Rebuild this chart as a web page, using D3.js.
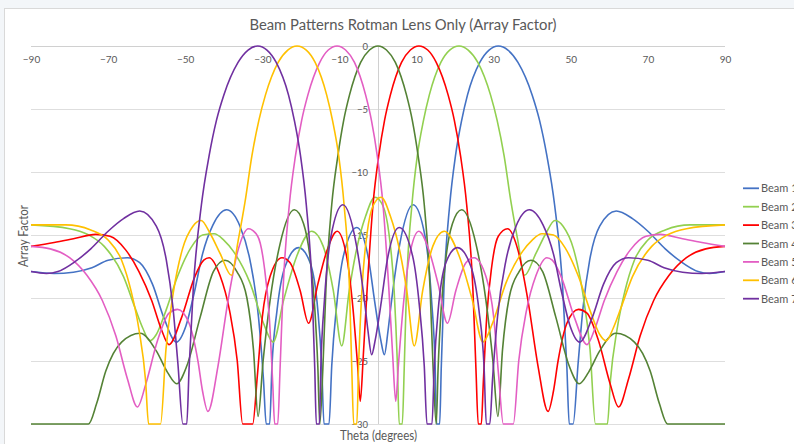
<!DOCTYPE html>
<html><head><meta charset="utf-8">
<script src="https://cdn.jsdelivr.net/npm/d3@7"></script>
<style>
html,body{margin:0;padding:0;background:#f3f6f9;}
svg{display:block;}
text{font-family:Lato,"Open Sans",sans-serif;fill:#595959;}
</style></head>
<body><svg id="chart" width="794" height="444"></svg>
<script>
const chartTitle = "Beam Patterns Rotman Lens Only (Array Factor)";
const xAxisTitle = "Theta (degrees)";
const yAxisTitle = "Array Factor";
const xTicks = [-90,-70,-50,-30,-10,10,30,50,70,90];
const yTicks = [0,-5,-10,-15,-20,-25,-30];
const seriesNames = ["Beam 1","Beam 2","Beam 3","Beam 4","Beam 5","Beam 6","Beam 7"];
const seriesColors = ["#4472C4","#92D050","#FF0000","#548235","#E35EC3","#FFC000","#7030A0"];

// [theta (deg), array factor (dB)]
const beam1 = [[-90,-17.9],[-84,-18.05],[-79,-17.95],[-74.2,-17.6],[-70,-17.0],[-65,-16.8],[-61.8,-17.2],[-58.5,-18.9],[-55.5,-21.6],[-52.3,-23.5],[-49.8,-22.2],[-47.6,-19.5],[-45.5,-16.5],[-42.8,-14.2],[-39.3,-13.0],[-35.8,-14.3],[-33.2,-17.0],[-31.0,-21.5],[-29.7,-26.5],[-29.0,-30],[-28.1,-30],[-27.5,-25.4],[-26.2,-21.0],[-24.1,-17.5],[-20.6,-16.0],[-17.6,-17.2],[-15.6,-21.0],[-14.6,-25.4],[-14.0,-30],[-12.7,-30],[-12.0,-25.4],[-10.7,-20.5],[-9.0,-16.7],[-5.5,-14.4],[-2.4,-17.0],[-0.9,-20.2],[0.7,-23.3],[1.65,-24.5],[2.6,-22.6],[3.4,-20.5],[5.6,-15.8],[9.1,-12.6],[12.2,-15.1],[13.9,-20.2],[14.8,-25.2],[15.2,-30],[16.0,-30],[16.4,-25.6],[17.1,-19.2],[18.6,-12.6],[20.1,-8.7],[21.7,-5.9],[23.2,-3.9],[26.4,-1.3],[28.8,-0.32],[31.2,0],[33.7,-0.32],[36.3,-1.3],[40.0,-3.9],[41.9,-5.9],[43.8,-8.7],[45.8,-12.6],[47.9,-19.2],[49.0,-25.6],[49.6,-30],[50.6,-30],[51.9,-25.2],[53.2,-20.7],[54.9,-17.0],[57.5,-14.3],[61.8,-13.1],[66,-13.7],[70,-14.7],[74.5,-16.1],[78.5,-17.1],[83,-17.9],[86,-18.05],[90,-17.9]];
const beam2 = [[-90,-14.2],[-80,-14.5],[-75,-15.0],[-71,-15.9],[-66,-18.3],[-63,-20.8],[-61,-22.4],[-59.2,-23.4],[-57.5,-22.9],[-55,-21.0],[-52,-18.3],[-48.5,-16.0],[-45.5,-15.0],[-42.5,-14.9],[-40,-15.4],[-37.5,-16.3],[-33.2,-18.8],[-29.7,-22.0],[-27.2,-23.5],[-24.5,-20.2],[-21.1,-16.7],[-17.2,-14.7],[-14.2,-15.9],[-11.6,-19.4],[-9.4,-23.8],[-7.5,-19.5],[-5.6,-16.2],[-3.2,-13.5],[-0.8,-12.0],[1.3,-12.7],[2.8,-14.8],[4.2,-19.5],[5.0,-25.0],[5.5,-30],[6.3,-30],[6.8,-25.6],[7.4,-19.2],[8.8,-12.6],[10.2,-8.7],[11.8,-5.9],[13.3,-3.9],[16.3,-1.3],[18.6,-0.32],[21.0,0],[23.4,-0.32],[25.9,-1.3],[29.2,-3.9],[30.9,-5.9],[32.7,-8.7],[34.5,-12.4],[36.3,-15.5],[38.0,-18.2],[40.9,-16.5],[43.5,-14.9],[45.9,-13.85],[48.0,-14.3],[50.7,-16.1],[53.0,-19.4],[55.0,-24.1],[56.4,-30],[59.5,-30],[60.3,-26.5],[62.0,-22.5],[64.0,-19.5],[66.5,-17.0],[70.0,-15.4],[74.5,-14.6],[81,-14.2],[90,-14.2]];
const beam3 = [[-90,-15.9],[-84,-15.6],[-79,-15.3],[-73.2,-14.95],[-69.5,-15.1],[-65.4,-16.2],[-62,-17.9],[-58.7,-20.2],[-56.3,-22.4],[-54.2,-23.7],[-51.0,-21.6],[-47.5,-18.3],[-45.2,-17.0],[-43.8,-16.8],[-41,-18.2],[-38.5,-21.0],[-36.5,-25.0],[-35.1,-30],[-32.5,-30],[-31.3,-26.2],[-30.0,-21.5],[-28.0,-18.3],[-24.9,-16.8],[-22.8,-17.2],[-20.2,-19.4],[-18.0,-22.0],[-15.6,-18.9],[-13.2,-16.2],[-10.6,-14.7],[-8.2,-16.6],[-6.5,-20.8],[-5.3,-25.3],[-4.6,-28.2],[-3.8,-24.5],[-2.8,-19.2],[-1.3,-12.6],[0.2,-8.7],[1.7,-5.9],[3.2,-3.9],[6.1,-1.3],[8.4,-0.32],[10.6,0],[12.9,-0.32],[15.1,-1.3],[18.2,-3.9],[19.8,-5.9],[21.4,-8.7],[23.0,-12.6],[24.6,-19.2],[25.4,-25.6],[26.0,-30],[26.8,-30],[27.3,-26.8],[28.2,-21.5],[29.5,-17.5],[31.2,-15.1],[33.6,-14.5],[36.3,-16.2],[38.9,-20.2],[41.5,-25.4],[44.1,-29.0],[45.5,-27.4],[46.7,-25.0],[49.0,-22.0],[52.0,-20.9],[54.2,-21.2],[57.2,-23.4],[60.2,-26.8],[62.4,-28.65],[65,-26.4],[68,-23.0],[71.5,-20.2],[75.5,-18.2],[80,-16.8],[85,-16.1],[90,-15.9]];
const beam4 = [[-90,-30],[-75.1,-30],[-73,-28.4],[-70.6,-25.8],[-66.5,-23.5],[-61.7,-22.8],[-57.5,-24.2],[-54.6,-25.9],[-52.2,-26.8],[-49.6,-25.4],[-46.1,-21.5],[-42.7,-17.9],[-39.7,-17.0],[-36.6,-17.9],[-34.0,-20.0],[-32.3,-24.1],[-31.1,-29.4],[-29.8,-25.0],[-28.0,-20.2],[-25.4,-15.7],[-21.7,-13.0],[-19.3,-14.1],[-17.7,-16.6],[-16.4,-20.8],[-15.6,-25.5],[-15.1,-30],[-14.3,-25.6],[-13.5,-19.2],[-12.0,-12.6],[-10.4,-8.7],[-8.9,-5.9],[-7.4,-3.9],[-4.5,-1.3],[-2.2,-0.32],[0,0],[2.2,-0.32],[4.5,-1.3],[7.4,-3.9],[8.9,-5.9],[10.4,-8.7],[12.0,-12.6],[13.5,-19.2],[14.3,-25.6],[15.1,-30],[15.6,-25.5],[16.4,-20.8],[17.7,-16.6],[19.3,-14.1],[21.7,-13.0],[25.4,-15.7],[28.0,-20.2],[29.8,-25.0],[31.1,-29.4],[32.3,-24.1],[34.0,-20.0],[36.6,-17.9],[39.7,-17.0],[42.7,-17.9],[46.1,-21.5],[49.6,-25.4],[52.2,-26.8],[54.6,-25.9],[57.5,-24.2],[61.7,-22.8],[66.5,-23.5],[70.6,-25.8],[73,-28.4],[75.1,-30],[90,-30]];
const beam5 = [[-90,-15.9],[-85,-16.1],[-80,-16.8],[-75.5,-18.2],[-71.5,-20.2],[-68,-23.0],[-65,-26.4],[-62.4,-28.65],[-60.2,-26.8],[-57.2,-23.4],[-54.2,-21.2],[-52.0,-20.9],[-49.0,-22.0],[-46.7,-25.0],[-45.5,-27.4],[-44.1,-29.0],[-41.5,-25.4],[-38.9,-20.2],[-36.3,-16.2],[-33.6,-14.5],[-31.2,-15.1],[-29.5,-17.5],[-28.2,-21.5],[-27.3,-26.8],[-26.8,-30],[-26.0,-30],[-25.4,-25.6],[-24.6,-19.2],[-23.0,-12.6],[-21.4,-8.7],[-19.8,-5.9],[-18.2,-3.9],[-15.1,-1.3],[-12.9,-0.32],[-10.6,0],[-8.4,-0.32],[-6.1,-1.3],[-3.2,-3.9],[-1.7,-5.9],[-0.2,-8.7],[1.3,-12.6],[2.8,-19.2],[3.8,-24.5],[4.6,-28.2],[5.3,-25.3],[6.5,-20.8],[8.2,-16.6],[10.6,-14.7],[13.2,-16.2],[15.6,-18.9],[18.0,-22.0],[20.2,-19.4],[22.8,-17.2],[24.9,-16.8],[28.0,-18.3],[30.0,-21.5],[31.3,-26.2],[32.5,-30],[35.1,-30],[36.5,-25.0],[38.5,-21.0],[41,-18.2],[43.8,-16.8],[45.2,-17.0],[47.5,-18.3],[51.0,-21.6],[54.2,-23.7],[56.3,-22.4],[58.7,-20.2],[62,-17.9],[65.4,-16.2],[69.5,-15.1],[73.2,-14.95],[79,-15.3],[84,-15.6],[90,-15.9]];
const beam6 = [[-90,-14.2],[-81,-14.2],[-74.5,-14.6],[-70.0,-15.4],[-66.5,-17.0],[-64.0,-19.5],[-62.0,-22.5],[-60.3,-26.5],[-59.5,-30],[-56.4,-30],[-55.0,-24.1],[-53.0,-19.4],[-50.7,-16.1],[-48.0,-14.3],[-45.9,-13.85],[-43.5,-14.9],[-40.9,-16.5],[-38.0,-18.2],[-36.3,-15.5],[-34.5,-12.4],[-32.7,-8.7],[-30.9,-5.9],[-29.2,-3.9],[-25.9,-1.3],[-23.4,-0.32],[-21.0,0],[-18.6,-0.32],[-16.3,-1.3],[-13.3,-3.9],[-11.8,-5.9],[-10.2,-8.7],[-8.8,-12.6],[-7.4,-19.2],[-6.8,-25.6],[-6.3,-30],[-5.5,-30],[-5.0,-25.0],[-4.2,-19.5],[-2.8,-14.8],[-1.3,-12.7],[0.8,-12.0],[3.2,-13.5],[5.6,-16.2],[7.5,-19.5],[9.4,-23.8],[11.6,-19.4],[14.2,-15.9],[17.2,-14.7],[21.1,-16.7],[24.5,-20.2],[27.2,-23.5],[29.7,-22.0],[33.2,-18.8],[37.5,-16.3],[40,-15.4],[42.5,-14.9],[45.5,-15.0],[48.5,-16.0],[52,-18.3],[55,-21.0],[57.5,-22.9],[59.2,-23.4],[61,-22.4],[63,-20.8],[66,-18.3],[71,-15.9],[75,-15.0],[80,-14.5],[90,-14.2]];
const beam7 = [[-90,-17.9],[-86,-18.05],[-83,-17.9],[-78.5,-17.1],[-74.5,-16.1],[-70,-14.7],[-66,-13.7],[-61.8,-13.1],[-57.5,-14.3],[-54.9,-17.0],[-53.2,-20.7],[-51.9,-25.2],[-50.6,-30],[-49.6,-30],[-49.0,-25.6],[-47.9,-19.2],[-45.8,-12.6],[-43.8,-8.7],[-41.9,-5.9],[-40.0,-3.9],[-36.3,-1.3],[-33.7,-0.32],[-31.2,0],[-28.8,-0.32],[-26.4,-1.3],[-23.2,-3.9],[-21.7,-5.9],[-20.1,-8.7],[-18.6,-12.6],[-17.1,-19.2],[-16.4,-25.6],[-16.0,-30],[-15.2,-30],[-14.8,-25.2],[-13.9,-20.2],[-12.2,-15.1],[-9.1,-12.6],[-5.6,-15.8],[-3.4,-20.5],[-2.6,-22.6],[-1.65,-24.5],[-0.7,-23.3],[0.9,-20.2],[2.4,-17.0],[5.5,-14.4],[9.0,-16.7],[10.7,-20.5],[12.0,-25.4],[12.7,-30],[14.0,-30],[14.6,-25.4],[15.6,-21.0],[17.6,-17.2],[20.6,-16.0],[24.1,-17.5],[26.2,-21.0],[27.5,-25.4],[28.1,-30],[29.0,-30],[29.7,-26.5],[31.0,-21.5],[33.2,-17.0],[35.8,-14.3],[39.3,-13.0],[42.8,-14.2],[45.5,-16.5],[47.6,-19.5],[49.8,-22.2],[52.3,-23.5],[55.5,-21.6],[58.5,-18.9],[61.8,-17.2],[65,-16.8],[70,-17.0],[74.2,-17.6],[79,-17.95],[84,-18.05],[90,-17.9]];

const seriesData = [beam1, beam2, beam3, beam4, beam5, beam6, beam7];

const svg = d3.select("#chart");
const W = 794, H = 444;

// chart area
svg.append("rect").attr("x",0).attr("y",0).attr("width",W).attr("height",H).attr("fill","#f3f6f9");
svg.append("rect").attr("x",4.5).attr("y",8.5).attr("width",W+20).attr("height",H+20)
  .attr("fill","#ffffff").attr("stroke","#d9d9d9").attr("stroke-width",1);

const x = d3.scaleLinear().domain([-90,90]).range([31,725]);
const y = d3.scaleLinear().domain([0,-30]).range([46,424]);

// horizontal gridlines
svg.append("g").selectAll("line").data(yTicks).join("line")
  .attr("x1",x(-90)).attr("x2",x(90))
  .attr("y1",d=>Math.round(y(d))+0.5).attr("y2",d=>Math.round(y(d))+0.5)
  .attr("stroke",d=>d===0?"#d0d0d0":"#dedede").attr("stroke-width",1);

// vertical axis line at theta = 0
svg.append("line").attr("x1",Math.round(x(0))+0.5).attr("x2",Math.round(x(0))+0.5)
  .attr("y1",y(0)).attr("y2",y(-30)).attr("stroke","#d0d0d0").attr("stroke-width",1);

// x axis labels (below the 0 dB line)
const xAxis = d3.axisBottom(x).tickValues(xTicks).tickSize(0).tickPadding(10).tickFormat(d3.format("d"));
const gx = svg.append("g").attr("transform",`translate(0,${y(0)})`).call(xAxis);
gx.select(".domain").remove();
gx.selectAll("text").style("font-family","Lato, sans-serif").style("font-size","10px").attr("fill","#595959");

// y axis labels (at theta = 0)
const yAxis = d3.axisLeft(y).tickValues(yTicks).tickSize(0).tickPadding(10).tickFormat(d3.format("d"));
const gy = svg.append("g").attr("transform",`translate(${x(0)},0)`).call(yAxis);
gy.select(".domain").remove();
gy.selectAll("text").style("font-family","Lato, sans-serif").style("font-size","9.5px").attr("fill","#595959");

// series lines
const line = d3.line().x(d=>x(d[0])).y(d=>y(d[1])).curve(d3.curveMonotoneX);
svg.append("g").selectAll("path").data(seriesData).join("path")
  .attr("d",line).attr("fill","none")
  .attr("stroke",(d,i)=>seriesColors[i]).attr("stroke-width",1.6)
  .attr("stroke-linejoin","round");

// title
svg.append("text").attr("x",403).attr("y",29.5).attr("text-anchor","middle")
  .style("font-size","15.5px").attr("textLength",307).attr("lengthAdjust","spacingAndGlyphs")
  .text(chartTitle);

// axis titles
svg.append("text").attr("transform","translate(27.5,236) rotate(-90)").attr("text-anchor","middle")
  .style("font-size","12.5px").attr("textLength",62).attr("lengthAdjust","spacingAndGlyphs")
  .text(yAxisTitle);
svg.append("text").attr("x",378.5).attr("y",439.5).attr("text-anchor","middle")
  .style("font-size","12.5px").attr("textLength",77).attr("lengthAdjust","spacingAndGlyphs")
  .text(xAxisTitle);

// legend
const legend = svg.append("g").selectAll("g").data(seriesNames).join("g")
  .attr("transform",(d,i)=>`translate(743,${188.3 + i*18.4})`);
legend.append("line").attr("x1",0).attr("x2",16).attr("y1",0).attr("y2",0)
  .attr("stroke",(d,i)=>seriesColors[i]).attr("stroke-width",1.8);
legend.append("text").attr("x",18).attr("y",4).style("font-size","11px").text(d=>d);
</script>
</body></html>
